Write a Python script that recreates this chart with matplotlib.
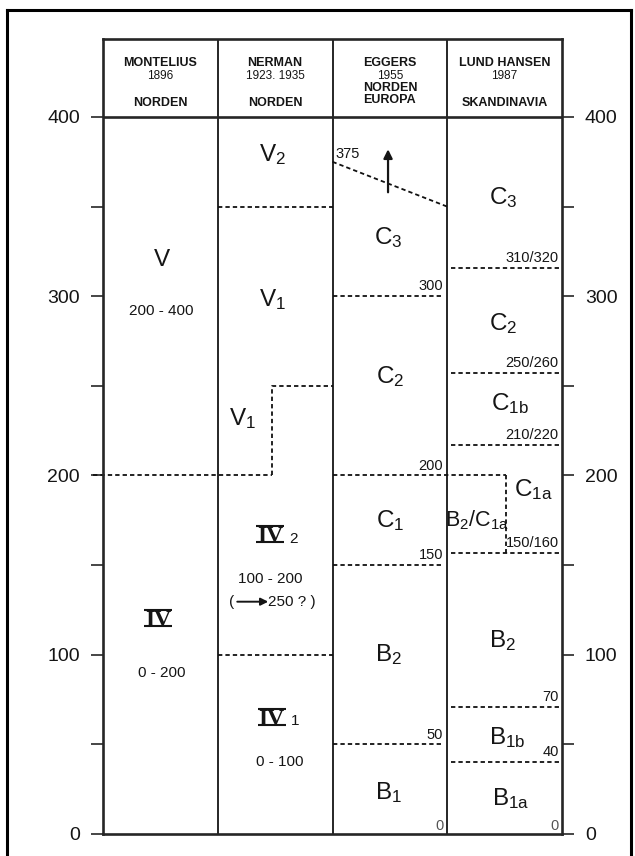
import matplotlib
matplotlib.use("Agg")
import matplotlib.pyplot as plt
from matplotlib.transforms import offset_copy
from matplotlib.lines import Line2D

plt.rcParams['font.family'] = ['Liberation Sans', 'DejaVu Sans']
plt.rcParams['mathtext.fontset'] = 'custom'
plt.rcParams['mathtext.rm'] = 'Liberation Sans'
plt.rcParams['mathtext.it'] = 'Liberation Sans:italic'
plt.rcParams['mathtext.bf'] = 'Liberation Sans:bold'

# ---------------- data ----------------
col_authors = ["MONTELIUS", "NERMAN", "EGGERS", "LUND HANSEN"]
col_years = ["1896", "1923. 1935", "1955", "1987"]
col_regions = [["NORDEN"], ["NORDEN"], ["NORDEN", "EUROPA"], ["SKANDINAVIA"]]

major_ticks = [0, 100, 200, 300, 400]
minor_ticks = [50, 150, 250, 350]

# Montelius 1896
mont_periods = ["V", "IV"]
mont_ranges = ["200 - 400", "0 - 200"]
mont_boundary = 200

# Nerman 1923, 1935
nerm_periods = ["V_2", "V_1", "V_1"]
nerm_iv_subs = ["2", "1"]
nerm_ranges = ["100 - 200", "0 - 100"]
nerm_note = ["(", "250 ? )"]
nerm_boundaries = [350, 100]
nerm_step = [200, 250]

# Eggers 1955
egg_periods = ["C_3", "C_2", "C_1", "B_2", "B_1"]
egg_top = [375, 350]
egg_top_label = "375"
egg_boundaries = [300, 200, 150, 50]
egg_labels = ["300", "200", "150", "50"]
egg_zero = "0"

# Lund Hansen 1987
lund_periods = ["C_3", "C_2", "C_{1b}", "C_{1a}", "B_2/C_{1a}", "B_2", "B_{1b}", "B_{1a}"]
lund_boundaries = [316, 257, 217, 157, 71, 40]
lund_labels = ["310/320", "250/260", "210/220", "150/160", "70", "40"]
lund_split = [200, 157]
lund_zero = "0"

# ---------------- layout ----------------
INK = "#151515"
LINE = "#262626"
W, H = 635, 856
fig = plt.figure(figsize=(W / 100, H / 100), dpi=100)
fig.patch.set_facecolor("white")

px_left, px_right, px_bottom, px_top = 103, 562, 834, 39
y_per_px = 400 / (834 - 117)
ytop = (px_bottom - px_top) * y_per_px
ax = fig.add_axes([px_left / W, (H - px_bottom) / H,
                   (px_right - px_left) / W, (px_bottom - px_top) / H])
ax.set_xlim(0, 4)
ax.set_ylim(0, ytop)

for s in ax.spines.values():
    s.set_linewidth(1.9)
    s.set_color(LINE)

ax.set_xticks([])
ax.set_yticks(major_ticks)
ax.set_yticks(minor_ticks, minor=True)
ax.set_yticklabels([str(v) for v in major_ticks])
ax.tick_params(axis="y", which="both", direction="out", length=8.5, width=1.2,
               color=LINE, left=True, right=True)
ax.tick_params(axis="y", which="major", labelsize=14, labelcolor=INK, pad=8,
               labelleft=True, labelright=True)

# column separators and header line
for cx in [1, 2, 3]:
    ax.axvline(cx, color=LINE, lw=1.4)
ax.axhline(400, color=LINE, lw=1.9)

# header text
HDR = 9
for i in range(4):
    cx = i + 0.5
    ax.text(cx, 430.0, col_authors[i], ha="center", va="center",
            fontsize=HDR, fontweight="bold", color=INK)
    ax.text(cx, 423.0, col_years[i], ha="center", va="center",
            fontsize=HDR - 0.5, color=INK)
    regs = col_regions[i]
    if len(regs) == 1:
        ax.text(cx, 407.8, regs[0], ha="center", va="center",
                fontsize=HDR, fontweight="bold", color=INK)
    else:
        ax.text(cx, 416.3, regs[0], ha="center", va="center",
                fontsize=HDR, fontweight="bold", color=INK)
        ax.text(cx, 409.6, regs[1], ha="center", va="center",
                fontsize=HDR, fontweight="bold", color=INK)

DASH = dict(color="#111111", lw=1.3, linestyle=(0, (2.4, 1.7)))
BIG = 17.5
SMALL = 10.5
MID = 11


def label(x, y, s, size=BIG, **kw):
    ax.text(x, y, r"$\mathrm{" + s + "}$", ha=kw.pop("ha", "center"),
            va=kw.pop("va", "center"), fontsize=size, color=INK, **kw)


def roman_iv(x, y, sub=None, size=17):
    ax.text(x, y, "IV", family="Liberation Serif", fontsize=size, ha="center",
            va="baseline", color=INK, fontweight="bold")
    for dy in (0.0, 0.66 * size):
        ax.plot([x], [y], marker="_", ms=1.2 * size, mew=1.5, color=INK,
                transform=offset_copy(ax.transData, fig=fig, x=0, y=dy, units="points"),
                clip_on=False)
    if sub is not None:
        ax.text(x, y, sub, fontsize=11, ha="center", va="baseline", color=INK,
                transform=offset_copy(ax.transData, fig=fig, x=1.0 * size, y=-0.5,
                                      units="points"))


# ---- Montelius ----
ax.plot([-0.087, 1.473], [mont_boundary, mont_boundary], clip_on=False, **DASH)
ax.text(0.51, 320, mont_periods[0], ha="center", va="center", fontsize=BIG, color=INK)
ax.text(0.51, 292, mont_ranges[0], ha="center", va="center", fontsize=MID, color=INK)
roman_iv(0.48, 116)
ax.text(0.51, 90, mont_ranges[1], ha="center", va="center", fontsize=MID, color=INK)

# ---- Nerman ----
ax.plot([1, 2], [nerm_boundaries[0]] * 2, **DASH)
ax.plot([1, 2], [nerm_boundaries[1]] * 2, **DASH)
ax.plot([1.473, 1.473, 2], [nerm_step[0], nerm_step[1], nerm_step[1]], **DASH)
label(1.473, 379, nerm_periods[0])
label(1.48, 298, nerm_periods[1])
label(1.22, 232, nerm_periods[2])
roman_iv(1.455, 163, nerm_iv_subs[0])
ax.text(1.455, 142.3, nerm_ranges[0], ha="center", va="center", fontsize=MID, color=INK)
ax.text(1.095, 129.4, nerm_note[0], ha="left", va="center", fontsize=MID, color=INK)
ax.annotate("", xy=(1.44, 129.6), xytext=(1.17, 129.6),
            arrowprops=dict(arrowstyle="-|>", color=INK, lw=1.4, mutation_scale=11,
                            shrinkA=0, shrinkB=0))
ax.text(1.44, 129.4, nerm_note[1], ha="left", va="center", fontsize=MID, color=INK)
roman_iv(1.47, 61, nerm_iv_subs[1])
ax.text(1.54, 40, nerm_ranges[1], ha="center", va="center", fontsize=MID, color=INK)

# ---- Eggers ----
ax.plot([2, 3], egg_top, **DASH)
ax.text(2.03, 379.5, egg_top_label, ha="left", va="center", fontsize=SMALL, color=INK)
ax.annotate("", xy=(2.484, 382), xytext=(2.484, 358),
            arrowprops=dict(arrowstyle="-|>", color=INK, lw=1.6, mutation_scale=13,
                            shrinkA=0, shrinkB=0))
egg_ext = [2.965, 3.512, 2.965, 2.97]
for b, lab, xe in zip(egg_boundaries, egg_labels, egg_ext):
    ax.plot([2, xe], [b, b], **DASH)
    ax.text(2.965, b + 1.6, lab, ha="right", va="bottom", fontsize=SMALL, color=INK)
ax.text(2.965, 0.8, egg_zero, ha="right", va="bottom", fontsize=SMALL, color="#555555")
for s, (x, y) in zip(egg_periods, [(2.49, 333), (2.5, 255), (2.5, 175), (2.49, 100), (2.49, 23)]):
    label(x, y, s)

# ---- Lund Hansen ----
for b, lab in zip(lund_boundaries, lund_labels):
    ax.plot([3.03, 4], [b, b], **DASH)
    ax.text(3.972, b + 1.6, lab, ha="right", va="bottom", fontsize=SMALL, color=INK)
ax.plot([3.512, 3.512], lund_split, **DASH)
ax.text(3.972, 0.8, lund_zero, ha="right", va="bottom", fontsize=SMALL, color="#555555")
lund_pos = [(3.49, 355), (3.49, 285), (3.55, 240), (3.75, 192), (3.26, 175),
            (3.48, 108), (3.52, 54), (3.55, 20)]
for s, (x, y) in zip(lund_periods, lund_pos):
    label(x, y, s, size=15.5 if "/" in s else BIG)

# ---- outer frame ----
fw = 2.2
fig.add_artist(Line2D([7 / W, 7 / W], [0, (H - 10) / H], transform=fig.transFigure,
                      color="black", lw=fw))
fig.add_artist(Line2D([7 / W, 631 / W], [(H - 10) / H, (H - 10) / H],
                      transform=fig.transFigure, color="black", lw=fw))
fig.add_artist(Line2D([631 / W, 631 / W], [0, (H - 10) / H], transform=fig.transFigure,
                      color="black", lw=fw))

fig.savefig("out.png", dpi=100)
